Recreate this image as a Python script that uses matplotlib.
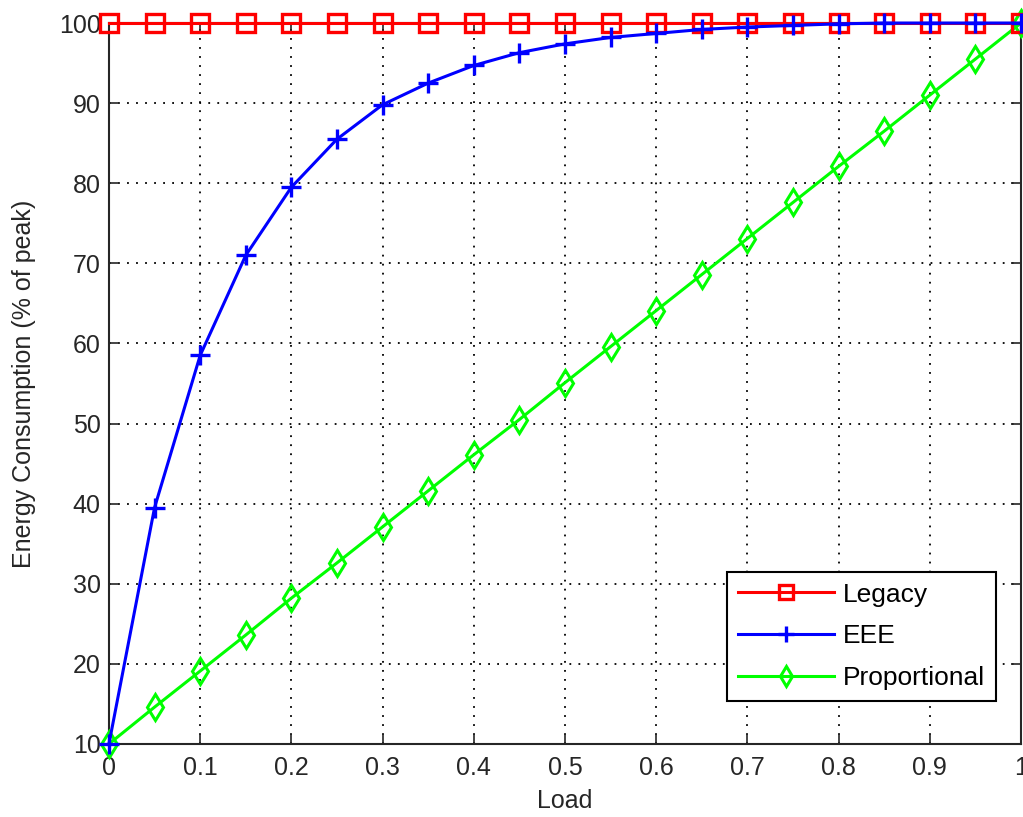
import numpy as np
import matplotlib.pyplot as plt

plt.rcParams['font.family'] = ['Liberation Sans', 'DejaVu Sans']

load = [0, 0.05, 0.1, 0.15, 0.2, 0.25, 0.3, 0.35, 0.4, 0.45, 0.5,
        0.55, 0.6, 0.65, 0.7, 0.75, 0.8, 0.85, 0.9, 0.95, 1.0]
legacy = [100] * 21
eee = [10, 39.5, 58.5, 71.0, 79.5, 85.5, 89.8, 92.5, 94.7, 96.3, 97.4,
       98.2, 98.7, 99.2, 99.5, 99.7, 99.9, 100, 100, 100, 100]
proportional = [10, 14.6, 19.1, 23.6, 28.2, 32.6, 37.1, 41.6, 46.1, 50.5, 55.1,
                59.6, 64.1, 68.6, 73.1, 77.6, 82.1, 86.5, 91.0, 95.5, 100]
xtick_labels = ['0', '0.1', '0.2', '0.3', '0.4', '0.5', '0.6', '0.7', '0.8', '0.9', '1']

fig = plt.figure(figsize=(10.23, 8.17), dpi=100)
ax = fig.add_axes([0.1065, 0.0894, 0.8915, 0.8824])

ax.plot(load, legacy, color='red', lw=2.2, marker='s', ms=13,
        mfc='none', mew=2.4, label='Legacy', clip_on=False, zorder=5)
ax.plot(load, eee, color='blue', lw=2.2, marker='+', ms=14,
        mew=2.4, label='EEE', clip_on=False, zorder=6)
ax.plot(load, proportional, color='#00ff00', lw=2.2, marker='d', ms=13,
        mfc='none', mew=2.2, label='Proportional', clip_on=False, zorder=4)

ax.set_xlim(0, 1)
ax.set_ylim(10, 100)
ax.set_xticks(np.arange(0, 1.01, 0.1))
ax.set_xticklabels(xtick_labels)
ax.set_yticks(np.arange(10, 101, 10))
ax.tick_params(direction='in', length=7, width=1.2, labelsize=18, colors='#262626',
               top=True, right=True)
ax.tick_params(axis='x', pad=9)
ax.tick_params(axis='y', pad=6)
ax.grid(True, color='black', linestyle=(0, (1, 4)), linewidth=1.3)
for s in ax.spines.values():
    s.set_linewidth(1.5)
    s.set_color('#262626')

ax.set_xlabel('Load', fontsize=18, color='#262626')
ax.set_ylabel('Energy Consumption (% of peak)', fontsize=18, color='#262626')
ax.xaxis.set_label_coords(0.5, -0.062)
ax.yaxis.set_label_coords(-0.080, 0.5)

leg = ax.legend(loc='lower right', bbox_to_anchor=(0.9726, 0.0596), fontsize=19,
                fancybox=False, edgecolor='black', framealpha=1, handlelength=3.65,
                borderpad=0.4, labelspacing=0.68, handletextpad=0.35,
                borderaxespad=0, markerscale=0.8)
leg.get_frame().set_linewidth(1.5)

fig.savefig('out.png', dpi=100)
